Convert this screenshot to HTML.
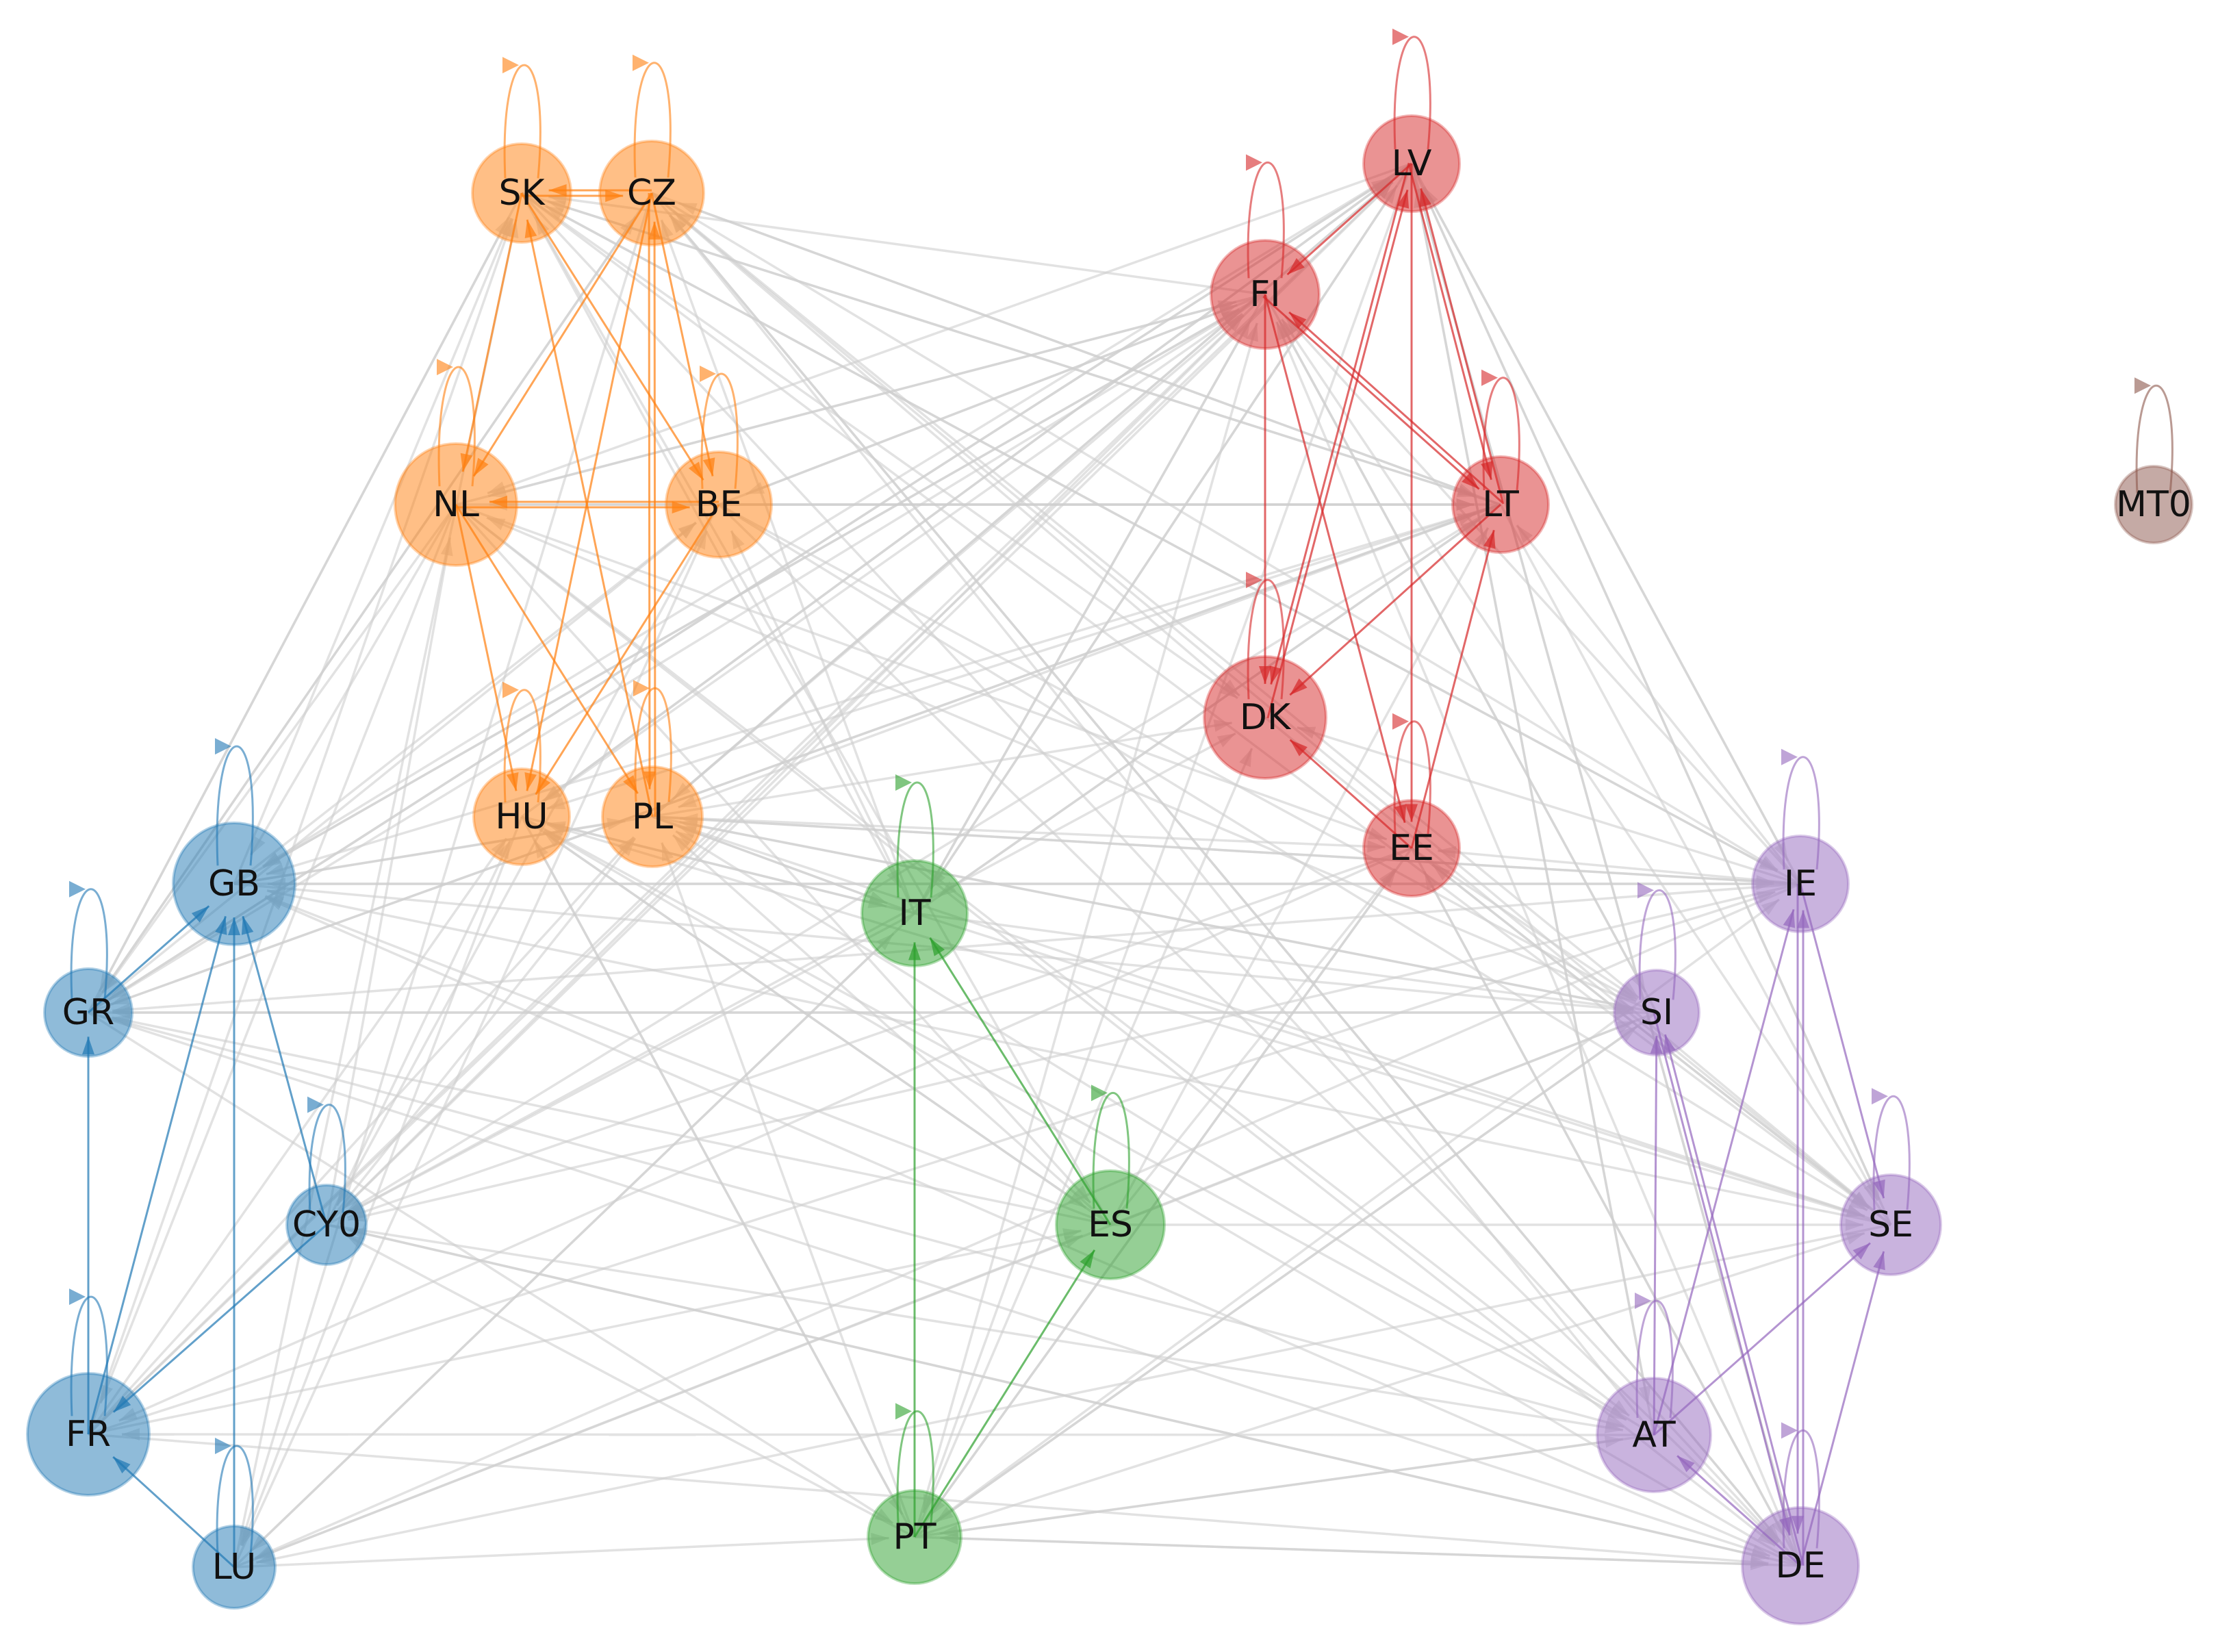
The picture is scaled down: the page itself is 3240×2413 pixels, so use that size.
<!DOCTYPE html>
<html><head><meta charset="utf-8"><style>
html,body{margin:0;padding:0;background:#fff;}
svg{display:block;}
text{font-family:"DejaVu Sans","Liberation Sans",sans-serif;font-size:52px;fill:#111;text-anchor:middle;dominant-baseline:central;}
</style></head><body>
<svg id="s" width="3240" height="2413" viewBox="0 0 3240 2413" xmlns="http://www.w3.org/2000/svg">
<g id="gray"></g><g id="col"></g><g id="nodes"></g>
</svg>
<script>
var C={b:"#1f77b4",o:"#ff7f0e",r:"#d62728",g:"#2ca02c",p:"#9467bd",m:"#8c564b"};
var N={
SK:[762,282,72,"o"],CZ:[952,282,76,"o"],NL:[666,737,89,"o"],BE:[1050,737,77,"o"],HU:[762,1193,70,"o"],PL:[953,1193,73,"o"],
LV:[2062,239,70,"r"],FI:[1848,430,79,"r"],LT:[2192,737,70,"r"],DK:[1848,1048,89,"r"],EE:[2062,1239,70,"r"],
MT0:[3146,737,56,"m"],
GB:[342,1291,89,"b"],GR:[129,1479,64,"b"],CY0:[477,1789,58,"b"],FR:[129,2095,89,"b"],LU:[342,2289,60,"b"],
IT:[1336,1334,77,"g"],ES:[1622,1789,79,"g"],PT:[1336,2245,68,"g"],
IE:[2630,1291,70,"p"],SI:[2420,1479,62,"p"],SE:[2762,1789,73,"p"],AT:[2416,2096,83,"p"],DE:[2630,2287,85,"p"]};
var NS="http://www.w3.org/2000/svg";
function el(t,a,p){var e=document.createElementNS(NS,t);for(var k in a)e.setAttribute(k,a[k]);document.getElementById(p).appendChild(e);return e;}
function arrow(x1,y1,x2,y2,col,w,op,p,r2){
 var dx=x2-x1,dy=y2-y1,L=Math.hypot(dx,dy),ux=dx/L,uy=dy/L;
 var ex=x2-ux*r2*0.55,ey=y2-uy*r2*0.55;
 el("line",{x1:x1,y1:y1,x2:ex,y2:ey,stroke:col,"stroke-width":w,"stroke-opacity":op},p);
 var hx=ex,hy=ey,bx=hx-ux*26,by=hy-uy*26,px=-uy*9,py=ux*9;
 el("polygon",{points:hx+","+hy+" "+(bx+px)+","+(by+py)+" "+(bx-px)+","+(by-py),fill:col,"fill-opacity":op},p);
}
var names=Object.keys(N);
var seed=7;function rnd(){seed=(seed*9301+49297)%233280;return seed/233280;}
for(var i=0;i<names.length;i++)for(var j=0;j<names.length;j++){
 if(i==j)continue;var a=N[names[i]],b=N[names[j]];
 if(a[3]==b[3]||a[3]=="m"||b[3]=="m")continue;
 if(rnd()<0.38){arrow(a[0],a[1],b[0],b[1],"#cfcfcf",3.5,0.6,"gray",b[2]);}
}
var E={o:[["SK","CZ"],["CZ","SK"],["SK","NL"],["SK","BE"],["CZ","NL"],["CZ","BE"],["CZ","HU"],["CZ","PL"],["PL","CZ"],["NL","BE"],["BE","NL"],["NL","HU"],["NL","PL"],["BE","HU"],["PL","SK"]],
r:[["LV","FI"],["LV","LT"],["LT","LV"],["LV","DK"],["DK","LV"],["LV","EE"],["FI","LT"],["LT","FI"],["FI","DK"],["FI","EE"],["LT","DK"],["EE","LT"],["EE","DK"]],
b:[["FR","GR"],["FR","GB"],["GR","GB"],["LU","GB"],["CY0","GB"],["CY0","FR"],["LU","FR"]],
g:[["PT","IT"],["ES","IT"],["PT","ES"]],
p:[["AT","IE"],["AT","SI"],["AT","SE"],["DE","IE"],["DE","SI"],["SI","DE"],["IE","DE"],["DE","SE"],["DE","AT"],["IE","SE"]]};
for(var k in E)E[k].forEach(function(e){var a=N[e[0]],b=N[e[1]];
 var rev=E[k].some(function(f){return f[0]==e[1]&&f[1]==e[0];});
 var dx=b[0]-a[0],dy=b[1]-a[1],L=Math.hypot(dx,dy),o=rev?4:0;var px=-dy/L*o,py=dx/L*o;
 arrow(a[0]+px,a[1]+py,b[0]+px,b[1]+py,C[k],3,0.7,"col",b[2]);});
names.forEach(function(n){var a=N[n];var x=a[0],y=a[1],r=a[2],col=C[a[3]];
 var y0=y-r*0.3,cy=y-r-170;
 el("path",{d:"M"+(x-24)+","+y0+" C"+(x-34)+","+cy+" "+(x+44)+","+cy+" "+(x+24)+","+y0,fill:"none",stroke:col,"stroke-width":3,"stroke-opacity":0.6},"col");
 var ay=0.25*y0+0.75*cy, ax=x-10;
 el("polygon",{points:(ax+6)+","+ay+" "+(ax-18)+","+(ay-12)+" "+(ax-18)+","+(ay+12),fill:col,"fill-opacity":0.6},"col");
});
names.forEach(function(n){var a=N[n];
 el("circle",{cx:a[0],cy:a[1],r:a[2],fill:C[a[3]],"fill-opacity":0.5,stroke:C[a[3]],"stroke-opacity":0.35,"stroke-width":4},"nodes");
 var t=el("text",{x:a[0],y:a[1]},"nodes");t.textContent=n;});
</script>
</body></html>
